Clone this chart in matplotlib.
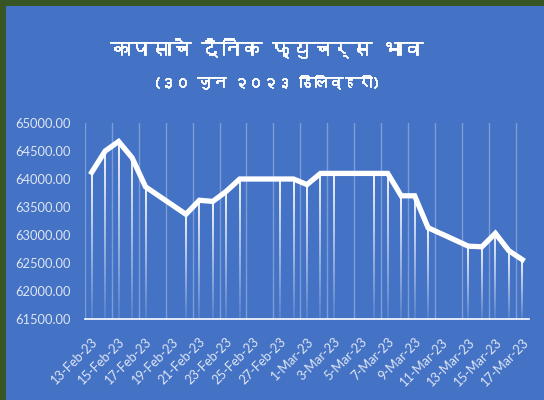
import matplotlib
matplotlib.use('Agg')
import matplotlib.pyplot as plt
import matplotlib.dates as mdates
import matplotlib.patheffects as pe
from matplotlib import font_manager
from matplotlib.ft2font import FT2Font
from matplotlib.collections import LineCollection
import numpy as np
import pandas as pd

# Données (jours de bourse uniquement)
dates = ['2023-02-13', '2023-02-14', '2023-02-15', '2023-02-16', '2023-02-17',
         '2023-02-20', '2023-02-21', '2023-02-22', '2023-02-23', '2023-02-24',
         '2023-02-27', '2023-02-28', '2023-03-01', '2023-03-02', '2023-03-03',
         '2023-03-06', '2023-03-07', '2023-03-08', '2023-03-09', '2023-03-10',
         '2023-03-13', '2023-03-14', '2023-03-15', '2023-03-16', '2023-03-17']
prix = [64120, 64500, 64670, 64380, 63860,
        63370, 63620, 63600, 63780, 64000,
        64000, 64000, 63900, 64100, 64100,
        64100, 64100, 63700, 63700, 63130,
        62800, 62790, 63030, 62720, 62560]

titre = 'कापसाचे दैनिक फ्युचर्स भाव'
sous_titre = '(३० जुन २०२३ डिलिव्हरी)'
y_ticks = [61500, 62000, 62500, 63000, 63500, 64000, 64500, 65000]

bleu = '#4472c4'
vert = '#375623'
txt = '#dfe6f4'


# cherche une police qui contient le devanagari
def police_devanagari():
    vus = set()
    for f in font_manager.fontManager.ttflist:
        if f.fname in vus:
            continue
        vus.add(f.fname)
        try:
            cmap = FT2Font(f.fname).get_charmap()
        except Exception:
            continue
        if 0x0915 in cmap and 0x0947 in cmap:
            return f.name
    return 'DejaVu Sans'


dev = police_devanagari()

x = mdates.date2num(pd.to_datetime(dates))
debut = mdates.date2num(pd.Timestamp('2023-02-13'))
fin = mdates.date2num(pd.Timestamp('2023-03-17'))
jours_lab = np.arange(debut, fin + 1, 2)

fig = plt.figure(figsize=(5.44, 4.0), dpi=100)
fig.patch.set_facecolor(vert)
fig.add_artist(plt.Rectangle((6 / 544, 0), 1, 1 - 6 / 400, transform=fig.transFigure,
                             facecolor=bleu, edgecolor='none', zorder=0))

ax = fig.add_axes([85 / 544, 81 / 400, 444 / 544, 196 / 400])
ax.set_facecolor('none')
ax.set_xlim(debut - 0.5, fin + 0.5)
ax.set_ylim(61500, 65000)

# grille verticale légère
for g in jours_lab - 0.5:
    ax.axvline(g, color='white', alpha=0.3, lw=1.0, zorder=1)

# lignes de rappel en dégradé
n = 40
for xi, yi in zip(x, prix):
    ys = np.linspace(61500, yi, n + 1)
    segs = [[(xi, ys[k]), (xi, ys[k + 1])] for k in range(n)]
    a = np.linspace(0.12, 1.0, n)
    cols = [(1, 1, 1, aa) for aa in a]
    ax.add_collection(LineCollection(segs, colors=cols, linewidths=1.3, zorder=2))

ax.plot(x, prix, color='white', lw=3.8, solid_joinstyle='miter', zorder=3)

for s in ['top', 'right', 'left']:
    ax.spines[s].set_visible(False)
ax.spines['bottom'].set_color('white')
ax.spines['bottom'].set_linewidth(1.2)

ax.set_yticks(y_ticks)
ax.set_yticklabels([f'{v:.2f}' for v in y_ticks], fontfamily='Lato', fontsize=9.3, color=txt)
ax.set_xticks(jours_lab)
ax.set_xticklabels([mdates.num2date(d).strftime('%-d-%b-%y') for d in jours_lab],
                   rotation=45, ha='right', rotation_mode='anchor',
                   fontfamily='Lato', fontsize=9.3, color=txt)
ax.tick_params(axis='both', length=0)
ax.tick_params(axis='x', pad=12)
ax.tick_params(axis='y', pad=10)

gras = [pe.withStroke(linewidth=0.6, foreground='white')]
fig.text(0.49, 1 - 48 / 400, titre, ha='center', va='center', color='white',
         fontsize=14.5, fontweight='bold', family=[dev, 'DejaVu Sans'], path_effects=gras)
fig.text(0.49, 1 - 82 / 400, sous_titre, ha='center', va='center', color='white',
         fontsize=10.5, fontweight='bold', family=[dev, 'DejaVu Sans'], path_effects=gras)

fig.savefig('out.png', dpi=100, facecolor=fig.get_facecolor())
